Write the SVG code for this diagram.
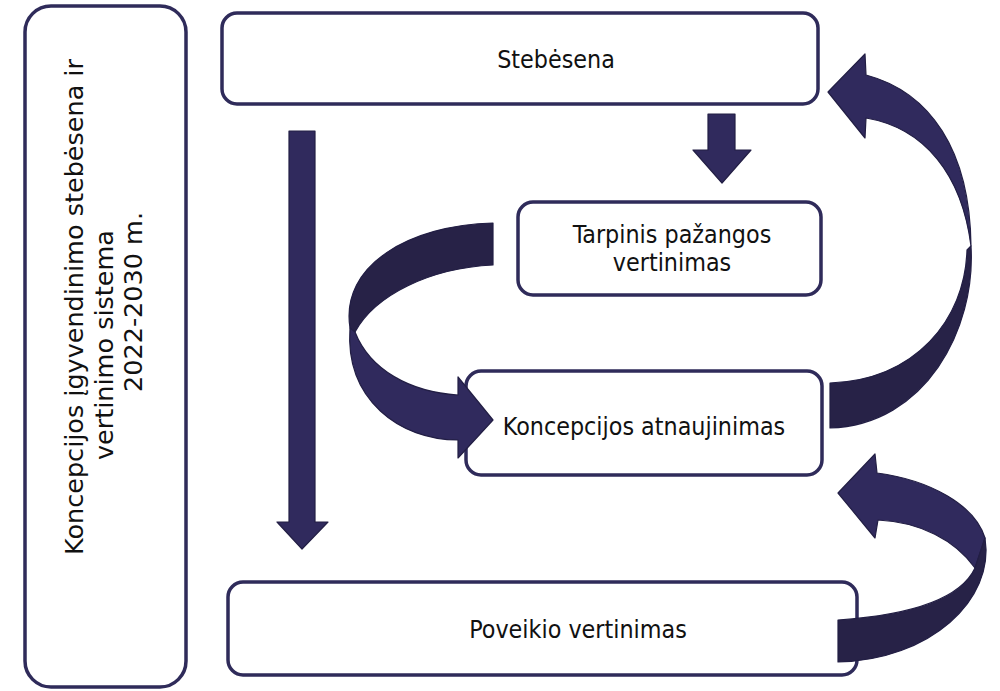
<svg xmlns="http://www.w3.org/2000/svg" width="1000" height="691" viewBox="0 0 1000 691">
<style>
.box{fill:#fff;stroke:#2f2b5a;stroke-width:3.5}
.t{font-family:"DejaVu Sans Condensed","DejaVu Sans",sans-serif;font-stretch:condensed;font-size:24.8px;fill:#111}
.s{font-family:"DejaVu Sans",sans-serif;font-stretch:normal;font-size:25.5px}
.c{text-anchor:middle}
.lt{fill:#302a5d;stroke:#221e44;stroke-width:1.2;stroke-linejoin:round}
.dk{fill:#272247;stroke:#221e44;stroke-width:1.2;stroke-linejoin:round}
</style>
<rect width="1000" height="691" fill="#fff"/>
<g id="system">
<rect class="box" x="25" y="6" width="161" height="681" rx="26"/>
<text class="t s" transform="translate(83,555) rotate(-90)">Koncepcijos įgyvendinimo stebėsena ir</text>
<text class="t s" transform="translate(113,460) rotate(-90)">vertinimo sistema</text>
<text class="t s" transform="translate(142,392) rotate(-90)">2022-2030 m.</text>
</g>
<g id="stebesena">
<rect class="box" x="222" y="13" width="596" height="91" rx="15"/>
<text class="t c" x="556" y="68">Stebėsena</text>
</g>
<g id="tarpinis">
<rect class="box" x="518" y="202" width="303" height="93" rx="15"/>
<text class="t c" x="672" y="243">Tarpinis pažangos</text>
<text class="t c" x="672" y="271">vertinimas</text>
</g>
<g id="atnaujinimas">
<rect class="box" x="466" y="371" width="356" height="104" rx="15"/>
<text class="t c" x="644" y="435">Koncepcijos atnaujinimas</text>
</g>
<g id="poveikio">
<rect class="box" x="228" y="582" width="629" height="93" rx="15"/>
<text class="t c" x="578" y="638">Poveikio vertinimas</text>
</g>
<g id="connectors">
<path class="lt" d="M289,131 L315,131 L315,522 L328,522 L302,549 L277,522 L289,522 Z"/>
<path class="lt" d="M708,114 L735,114 L735,150 L751,150 L722,183 L693,150 L708,150 Z"/>
<path class="dk" d="M493,223 C410,225 340,265 350,328 L355,332 C375,295 430,268 493,265 Z"/>
<path class="lt" d="M350,328 C345,400 400,440 458,440 L458,458 L493,420 L458,377 L458,395 C410,392 370,370 355,332 Z"/>
<path class="lt" d="M865,54 L866,75 C930,92 970,150 971,246 C962,175 925,128 866,118 L865,138 L828,92 Z"/>
<path class="dk" d="M971,246 C976,330 925,425 830,428 L830,383 C915,380 965,320 967,250 Z"/>
<path class="lt" d="M875,454 L877,473 C930,480 975,505 985,538 L975,568 C955,540 920,522 878,520 L875,538 L838,493 Z"/>
<path class="dk" d="M985,538 C995,600 930,660 838,662 L838,620 C910,615 960,600 975,568 Z"/>
</g>
</svg>
